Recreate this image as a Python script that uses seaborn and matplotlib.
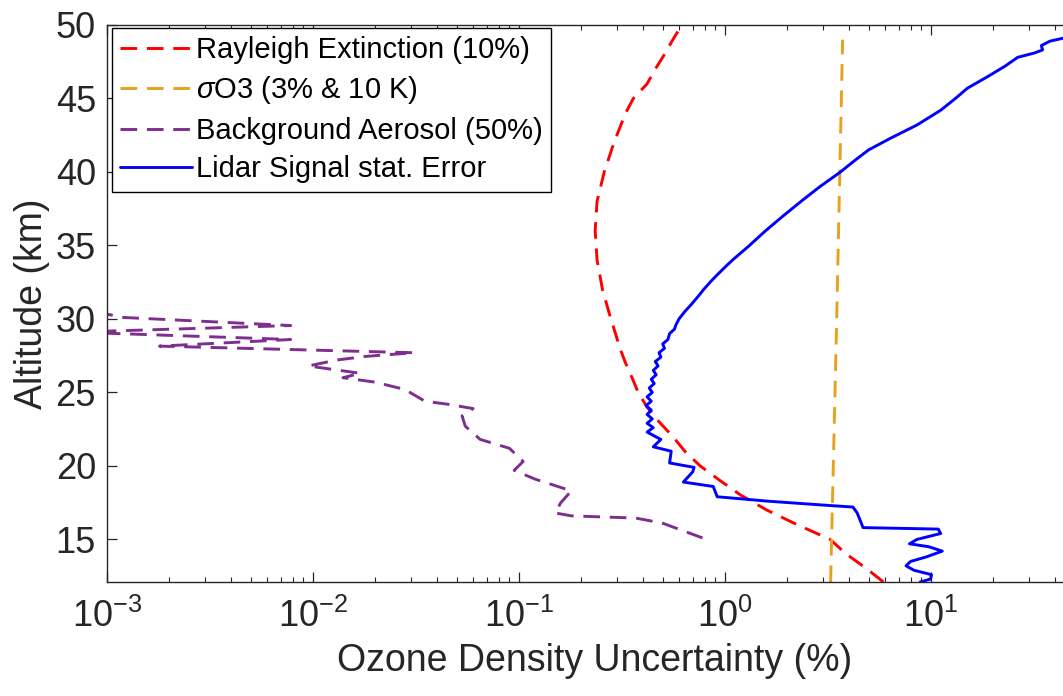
import matplotlib
matplotlib.use("Agg")
import matplotlib.pyplot as plt
import seaborn as sns
from matplotlib.ticker import LogLocator, FixedLocator, NullLocator, NullFormatter

# ---------------- data ----------------
rayleigh_alt = [12.1, 13, 14, 15, 16, 17, 18, 19, 20, 21, 22, 23, 24, 25, 26, 27, 28, 29, 30,
                32, 34, 36, 38, 40, 42, 44, 45, 46, 47, 48, 49, 50]
rayleigh_err = [5.9, 4.9, 3.9, 3.25, 2.25, 1.6, 1.2, 0.95, 0.76, 0.64, 0.56, 0.48, 0.42, 0.38,
                0.355, 0.33, 0.31, 0.295, 0.28, 0.255, 0.24, 0.235, 0.24, 0.26, 0.29, 0.33,
                0.36, 0.42, 0.46, 0.51, 0.56, 0.62]

o3_alt = [12.1, 30.0, 49.0]
o3_err = [3.27, 3.5, 3.74]

aerosol_alt = [15.1, 16.1, 16.45, 16.6, 16.8, 17.5, 18.3, 19.1, 19.7, 20.3, 21.2, 21.8, 22.7,
               23.4, 23.9, 24.2, 24.4, 25.2, 25.7, 26.0, 26.3, 26.6, 26.8, 27.2, 27.45, 27.7,
               28.15, 28.6, 29.05, 29.15, 29.55, 30.1, 30.6, 30.8]
aerosol_err = [0.78, 0.50, 0.37, 0.18, 0.15, 0.16, 0.18, 0.12, 0.095, 0.105, 0.09, 0.065, 0.055,
               0.053, 0.060, 0.045, 0.035, 0.028, 0.020, 0.014, 0.017, 0.012, 0.0095, 0.013,
               0.018, 0.031, 0.0018, 0.0078, 0.0009, 0.0009, 0.0078, 0.0012, 0.0008, 0.0004]

lidar_alt = [12.1, 12.3, 12.6, 12.9, 13.2, 13.5, 13.8, 14.2, 14.5, 14.7, 15.0, 15.4, 15.7, 15.8,
             16.3, 16.8, 17.2, 17.3, 17.6, 17.9, 18.6, 18.9, 19.6, 19.9, 20.2, 21.0, 21.3, 21.8,
             22.3, 22.6, 22.9, 23.2, 23.5, 23.8, 24.1, 24.4, 24.7, 25.0, 25.3, 25.6, 25.9, 26.2,
             26.5, 26.8, 27.1, 27.4, 27.7, 28.0, 28.3, 28.6, 29.0, 29.3, 29.6, 30.0, 30.5, 31.0,
             31.5, 32.0, 32.5, 33.0, 33.5, 34.0, 35.0, 36.0, 37.0, 38.0, 39.0, 40.0, 40.8, 41.5,
             42.3, 43.2, 44.2, 45.0, 45.7, 46.5, 47.2, 47.8, 48.1, 48.3, 48.6, 48.9, 49.1, 49.2]
lidar_err = [8.9, 10.0, 10.1, 8.3, 7.6, 8.0, 9.5, 11.4, 9.8, 7.9, 8.6, 11.2, 10.9, 4.7,
             4.55, 4.4, 4.2, 3.27, 1.62, 0.92, 0.88, 0.63, 0.70, 0.71, 0.54, 0.55, 0.45, 0.49,
             0.42, 0.45, 0.42, 0.445, 0.42, 0.44, 0.415, 0.44, 0.42, 0.445, 0.43, 0.455, 0.44,
             0.465, 0.45, 0.475, 0.46, 0.49, 0.48, 0.51, 0.50, 0.53, 0.54, 0.57, 0.58, 0.60,
             0.64, 0.69, 0.74, 0.79, 0.85, 0.92, 1.0, 1.09, 1.32, 1.58, 1.92, 2.35, 2.9, 3.65,
             4.3, 5.0, 6.4, 8.6, 11.2, 13.2, 15.1, 19.0, 23.0, 26.5, 32.0, 35.0, 34.5, 38.0,
             44.0, 50.0]

labels = ["Rayleigh Extinction (10%)", r"$\sigma$O3 (3% & 10 K)",
          "Background Aerosol (50%)", "Lidar Signal stat. Error"]
colors = ["#FF0000", "#E6A21E", "#7E2F8E", "#0000FF"]

xtick_vals = [1e-3, 1e-2, 1e-1, 1e0, 1e1]
ytick_vals = [15, 20, 25, 30, 35, 40, 45, 50]

# ---------------- style ----------------
sns.set_theme(style="white")
plt.rcParams['font.family'] = ['Liberation Sans', 'DejaVu Sans']
plt.rcParams['mathtext.fontset'] = 'custom'
plt.rcParams['mathtext.rm'] = 'Liberation Sans'
plt.rcParams['mathtext.it'] = 'Liberation Sans:italic'
plt.rcParams['mathtext.default'] = 'it'
plt.rcParams['lines.scale_dashes'] = False
axcol = "#262626"

W, H = 1063, 696
fig = plt.figure(figsize=(W / 100, H / 100), dpi=100)
ax = fig.add_axes([107 / W, 1 - 582 / H, 976 / W, 557 / H])
ax.set_xscale('log')

dash = (0, (12, 7))
series = [(rayleigh_err, rayleigh_alt, dash),
          (o3_err, o3_alt, dash),
          (aerosol_err, aerosol_alt, dash),
          (lidar_err, lidar_alt, '-')]
for (xv, yv, ls), lab, col in zip(series, labels, colors):
    sns.lineplot(x=xv, y=yv, sort=False, estimator=None, color=col, linestyle=ls,
                 linewidth=2.1, label=lab, ax=ax)

ax.set_xlim(1e-3, 55)
ax.set_ylim(12.1, 50)
ax.xaxis.set_major_locator(FixedLocator(xtick_vals))
ax.xaxis.set_minor_locator(LogLocator(base=10, subs=range(2, 10), numticks=20))
ax.xaxis.set_minor_formatter(NullFormatter())
ax.yaxis.set_major_locator(FixedLocator(ytick_vals))
ax.yaxis.set_minor_locator(NullLocator())

ax.tick_params(axis='both', which='both', direction='in', top=True, right=True,
               bottom=True, left=True, colors=axcol, labelcolor=axcol)
ax.tick_params(axis='both', which='major', length=7, width=0.9, labelsize=26)
ax.tick_params(axis='both', which='minor', length=3.5, width=0.8)
ax.tick_params(axis='y', which='major', pad=8)
ax.tick_params(axis='x', which='major', pad=12)
for s in ax.spines.values():
    s.set_color(axcol)
    s.set_linewidth(1.0)

ax.set_xlabel("Ozone Density Uncertainty (%)", fontsize=27, color=axcol, labelpad=6)
ax.set_ylabel("Altitude (km)", fontsize=27, color=axcol, labelpad=4)

leg = ax.legend(loc='upper left', bbox_to_anchor=(0.005, 0.995), borderaxespad=0,
                fontsize=21, frameon=True, fancybox=False, framealpha=1,
                edgecolor='black', handlelength=2.45, handletextpad=0.15,
                labelspacing=0.36, borderpad=0.28)
leg.get_frame().set_linewidth(1.0)
for t in leg.get_texts():
    t.set_color('black')

fig.savefig("out.png", dpi=100)
